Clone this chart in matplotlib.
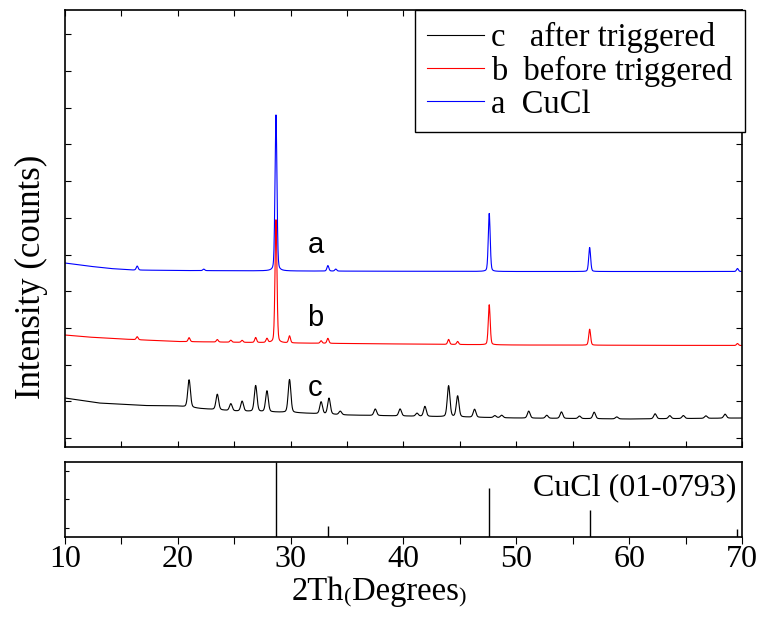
import numpy as np
import matplotlib.pyplot as plt
from matplotlib.ticker import MultipleLocator

plt.rcParams['font.family'] = ['Liberation Serif', 'DejaVu Serif']

# scan grid (2theta, degrees)
two_theta = np.arange(10, 70.01, 0.02)

# a: CuCl  (background anchors + peak list)
a_bg_x = [10, 12, 14, 16, 20, 30, 50, 70]
a_bg_y = [184, 181, 178.5, 177, 176.5, 176, 175.5, 175.5]
a_peak_pos = [16.4, 22.3, 28.7, 33.3, 34.0, 47.6, 56.5, 69.6]
a_peak_h = [4, 1.5, 156, 5.5, 2, 58, 24, 3]

# b: before triggered
b_bg_x = [10, 12, 15, 20, 30, 50, 70]
b_bg_y = [112, 110, 108, 105.5, 104, 102, 101.5]
b_peak_pos = [16.4, 21.0, 23.5, 24.7, 25.7, 26.9, 27.9, 28.7, 29.9, 32.7,
              33.3, 44.0, 44.8, 47.6, 56.5, 69.6]
b_peak_h = [3, 4, 2.5, 2, 2, 5, 4, 123, 7, 2.5, 5, 5, 3, 40, 16, 2]

# c: after triggered
c_bg_x = [10, 13, 17, 20, 22, 25, 30, 35, 40, 50, 60, 70]
c_bg_y = [49, 44, 41.5, 41, 38.5, 36, 34.5, 32, 31, 29, 28, 29]
c_peak_pos = [21.0, 23.5, 24.7, 25.7, 26.9, 27.9, 29.9, 32.7, 33.4, 34.4,
              37.5, 39.7, 41.2, 41.9, 44.0, 44.8, 46.3, 48.1, 48.7, 51.1,
              52.7, 54.0, 55.6, 56.9, 58.9, 62.3, 63.6, 64.8, 66.8, 68.5]
c_peak_h = [27.5, 15.5, 7, 10, 26, 21, 33, 12, 16, 3.5,
            6.5, 7, 3, 10, 31, 21, 8, 2, 2.5, 7,
            3, 6.5, 2.5, 6.5, 2, 5, 3, 3, 2.5, 4]

# reference card CuCl (01-0793)
ref_pos = [28.7, 33.3, 47.6, 56.5, 69.6]
ref_int = [100, 14, 65, 36, 11]


def pattern(bg_x, bg_y, pos, h, fwhm):
    y = np.interp(two_theta, bg_x, bg_y)
    s = fwhm / 2.355
    g = fwhm / 2
    for p, hh in zip(pos, h):
        d = two_theta - p
        y = y + hh * (0.75 * np.exp(-d**2 / (2 * s**2)) + 0.25 * g**2 / (d**2 + g**2))
    return y


fig = plt.figure(figsize=(7.6, 6.17), dpi=100)
ax = fig.add_axes([0.0855, 0.2755, 0.9763 - 0.0855, 0.9838 - 0.2755])
ax2 = fig.add_axes([0.0855, 0.1297, 0.9763 - 0.0855, 0.2512 - 0.1297])

lc, = ax.plot(two_theta, pattern(c_bg_x, c_bg_y, c_peak_pos, c_peak_h, 0.28), color='black', lw=0.8)
lb, = ax.plot(two_theta, pattern(b_bg_x, b_bg_y, b_peak_pos, b_peak_h, 0.2), color='red', lw=0.8)
la, = ax.plot(two_theta, pattern(a_bg_x, a_bg_y, a_peak_pos, a_peak_h, 0.2), color='blue', lw=0.8)

ax.set_xlim(10, 70)
ax.set_ylim(0, 437)
ax.xaxis.set_major_locator(MultipleLocator(10))
ax.xaxis.set_minor_locator(MultipleLocator(5))
ax.yaxis.set_major_locator(MultipleLocator(36.7, offset=9))
ax.tick_params(which='both', direction='in', top=True, right=True,
               labelbottom=False, labelleft=False, length=4, width=0.8)
for sp in ax.spines.values():
    sp.set_linewidth(1.2)

for lab, yy in zip(['a', 'b', 'c'], [202, 129, 59]):
    ax.text(32.2, yy, lab, family='Liberation Sans', fontsize=21,
            ha='center', va='center')

leg = ax.legend([lc, lb, la], ['c   after triggered', 'b  before triggered', 'a  CuCl'],
                loc='upper right', bbox_to_anchor=(1.004, 1.0), borderaxespad=0,
                fontsize=23.5, handlelength=1.75, handletextpad=0.2,
                labelspacing=0.07, borderpad=0.38, fancybox=False,
                edgecolor='black', framealpha=1)
leg.get_frame().set_linewidth(1.0)

ax2.vlines(ref_pos, 0, ref_int, color='black', lw=1.0)
ax2.set_xlim(10, 70)
ax2.set_ylim(0, 100)
ax2.xaxis.set_major_locator(MultipleLocator(10))
ax2.xaxis.set_minor_locator(MultipleLocator(5))
ax2.set_yticks([12, 50, 88])
ax2.tick_params(which='both', direction='out', top=False, labelleft=False,
                length=5, width=0.8, labelsize=23, pad=1)
ax2.tick_params(axis='y', direction='in', length=3)
for sp in ax2.spines.values():
    sp.set_linewidth(1.2)
ax2.text(0.992, 0.66, 'CuCl (01-0793)', transform=ax2.transAxes,
         fontsize=23, ha='right', va='center')

# x label with small brackets
t = fig.text(292 / 760, 1 - 600 / 617, '2Th', fontsize=23.5, ha='left', va='baseline')
t = ax2.annotate('(', xycoords=t, xy=(1, 0), va='bottom', fontsize=16)
t = ax2.annotate('Degrees', xycoords=t, xy=(1, 0), va='bottom', fontsize=23.5)
t = ax2.annotate(')', xycoords=t, xy=(1, 0), va='bottom', fontsize=16)

fig.text(31 / 760, 1 - 277 / 617, 'Intensity (counts)', fontsize=25,
         rotation=90, ha='center', va='center')

fig.savefig('out.png', dpi=100)
